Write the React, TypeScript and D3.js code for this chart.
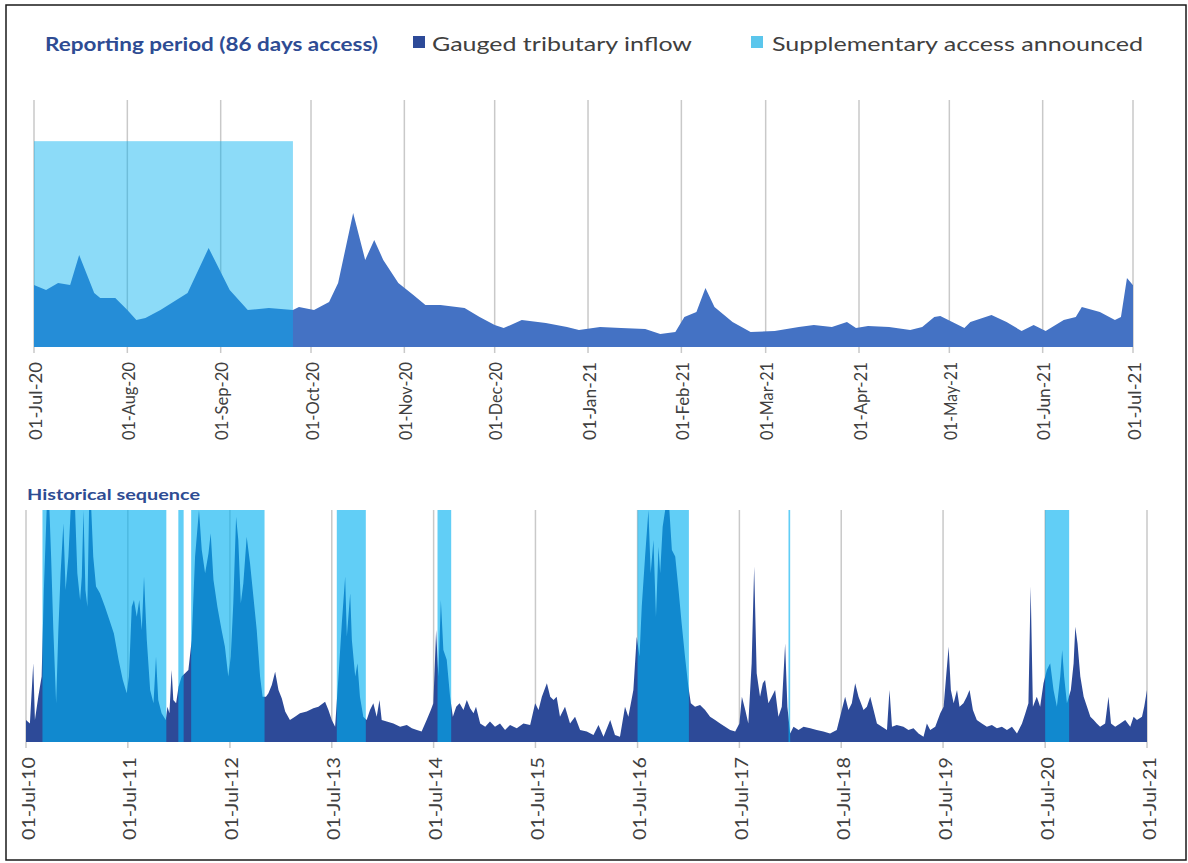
import React from 'react';
import * as d3 from 'd3';

// ---------- Reporting period (2020-21) ----------
const topStartStr = '2020-07-01';
const topTicks = ['2020-07-01','2020-08-01','2020-09-01','2020-10-01','2020-11-01','2020-12-01','2021-01-01','2021-02-01','2021-03-01','2021-04-01','2021-05-01','2021-06-01','2021-07-01'];
// days since 1 Jul 2020
const topDay = [0,4,8,12,15,20,22,27,31,34,37,42,51,58,65,71,78,86,88,93,98,101,106,110,113,116,121,126,130,135,143,148,153,156,162,170,177,181,188,195,203,208,213,216,220,223,226,232,238,246,254,259,265,270,273,277,284,291,295,299,301,305,309,311,318,323,328,332,336,342,346,348,354,359,361,363,365];
const topFlow = [301,277,311,301,447,262,238,238,180,131,141,180,262,481,277,180,189,180,194,180,219,311,651,423,520,423,311,253,204,204,189,146,107,92,131,117,97,83,97,92,87,63,73,146,170,287,194,121,73,78,97,107,97,121,92,102,97,83,97,146,151,121,92,121,155,121,78,107,78,131,146,194,170,131,146,335,300];
const reportStart = '2020-07-01';
const reportEnd = '2020-09-25';
const reportLevel = 1000;

// ---------- Historical sequence (2010-21) ----------
const histStartStr = '2010-07-01';
const histTicks = ['2010-07-01','2011-07-01','2012-07-01','2013-07-01','2014-07-01','2015-07-01','2016-07-01','2017-07-01','2018-07-01','2019-07-01','2020-07-01','2021-07-01'];
// days since 1 Jul 2010
const histDay = [
  0,14,26,32,44,56,64,74,84,90,98,108,116,124,134,142,152,160,176,184,194,200,206,213,220,226,234,241,251,265,283,299,315,332,347,361,369,379,387,397,406,415,423,433,445,457,466,474,486,501,507,514,522,528,538,547,558,570,582,594,606,620,630,642,654,662,672,686,701,713,725,734,743,753,761,770,779,791,803,815,827,839,848,860,869,881,893,905,917,929,946,964,
  982,1006,1030,1048,1072,1084,1096,1108,1120,1132,1144,1150,1162,1168,1180,1188,1197,1209,1221,1233,1245,1257,1267,1275,1293,1317,1341,1365,1383,1401,1418,1436,1451,1460,1470,1478,1487,1496,1508,1520,1530,1542,1554,1568,1580,1592,1604,1613,1628,1646,1663,1681,1699,1717,1735,1759,1783,1807,1825,1837,1849,1867,1879,1891,1902,1914,1932,1950,1968,
  1986,2010,2034,2052,2070,2094,2111,2129,2147,2159,2177,2189,2199,2207,2219,2231,2239,2249,2258,2267,2273,2282,2291,2306,2315,2327,2339,2350,2362,2374,2383,2398,2416,2434,2452,2470,2488,2506,2524,2542,2557,2566,2578,2589,2601,2610,2619,2631,2641,2649,2661,2673,2685,2697,2709,2721,2729,2739,2751,2769,2787,2811,2834,2858,2882,2906,2924,2936,2948,2960,2972,2984,
  3002,3014,3026,3038,3050,3068,3086,3095,3104,3121,3145,3163,3181,3199,3217,3229,3241,3259,3277,3289,3298,3307,3315,3325,3337,3346,3360,3372,3382,3394,3408,3426,3444,3462,3480,3498,3516,3534,3552,3570,3582,3593,3601,3609,3623,3635,3647,3659,3671,3683,3695,3707,3714,3721,3731,3745,3755,3761,3769,3779,3791,3803,3815,3827,3838,3850,3868,3880,3889,3904,3922,3940,3958,3970,3982,4000,4008,4018
];
const histFlow = [
  95,80,339,95,195,282,655,1000,1000,800,483,167,483,727,943,655,800,1000,1000,727,612,713,1000,655,583,1000,1000,800,670,641,583,526,468,353,267,210,282,583,612,540,612,483,713,440,224,167,368,181,124,95,152,124,310,181,167,239,282,296,310,440,800,1000,828,727,813,900,698,583,483,411,282,368,598,971,871,598,684,885,770,627,483,282,195,195,210,246,303,224,188,131,95,109,
  124,131,145,152,174,138,95,66,282,512,713,454,641,440,282,339,195,109,95,138,167,109,181,95,88,80,66,73,59,52,45,95,138,167,483,282,612,397,354,195,109,152,167,138,181,145,124,152,80,66,88,66,80,52,73,59,80,73,167,138,195,253,195,181,195,109,152,80,109,
  52,45,30,73,23,95,30,23,152,109,224,454,368,583,800,1000,727,871,540,842,727,928,1000,1000,828,800,655,512,368,239,167,152,160,138,109,95,80,66,52,45,80,195,138,80,339,756,296,195,253,267,167,195,224,109,152,425,152,37,66,52,66,59,52,45,37,52,138,195,138,167,253,195,
  138,152,195,138,80,66,52,224,66,73,66,52,59,37,23,80,52,66,124,152,282,411,224,167,224,152,167,195,224,138,95,80,66,73,59,66,52,66,37,80,124,167,670,152,195,152,253,310,339,224,152,282,397,282,167,224,339,497,425,282,195,152,109,95,80,66,80,195,80,66,80,95,66,109,95,109,152,224
];
const accessStart = ['2010-08-29','2011-12-29','2012-02-13','2013-07-19','2014-07-15','2016-07-01','2017-12-24','2020-07-01'];
const accessEnd = ['2011-11-16','2012-01-17','2012-11-02','2013-10-31','2014-09-02','2017-01-01','2017-12-30','2020-09-25'];

const W = 1188;
const H = 863;
const parse = d3.utcParse('%Y-%m-%d');
const fmt = d3.utcFormat('%d-%b-%y');

const C_TITLE = '#2E4C93';
const C_TEXT = '#404040';
const C_GRID = '#c9c9c9';
const C_TOP_AREA = '#4472C4';
const C_HIST_AREA = '#2D4A98';
const C_ACCESS = '#00B0F0';

export default function App() {
  const topStart = parse(topStartStr)!;
  const histStart = parse(histStartStr)!;

  const topX = d3.scaleUtc().domain([parse(topTicks[0])!, parse(topTicks[topTicks.length - 1])!]).range([34, 1133]);
  const topY = d3.scaleLinear().domain([0, 1200]).range([347, 100]).clamp(true);
  const histX = d3.scaleUtc().domain([parse(histTicks[0])!, parse(histTicks[histTicks.length - 1])!]).range([26, 1147]);
  const histY = d3.scaleLinear().domain([0, 1000]).range([742, 510]).clamp(true);

  const topData = topDay.map((d, i) => ({ date: d3.utcDay.offset(topStart, d), v: topFlow[i] }));
  const histData = histDay.map((d, i) => ({ date: d3.utcDay.offset(histStart, d), v: histFlow[i] }));

  const topArea = d3.area<{ date: Date; v: number }>()
    .x(d => topX(d.date)).y0(topY(0)).y1(d => topY(d.v))(topData) || '';
  const histArea = d3.area<{ date: Date; v: number }>()
    .x(d => histX(d.date)).y0(histY(0)).y1(d => histY(d.v))(histData) || '';

  const rs = parse(reportStart)!;
  const re = parse(reportEnd)!;

  return (
    <svg width={W} height={H} style={{ position: 'absolute', left: 0, top: 0, display: 'block' }}
      fontFamily="Lato, 'Open Sans', sans-serif">
      <rect x={0} y={0} width={W} height={H} fill="#fff" />
      <rect x={6} y={5} width={1180} height={855} fill="none" stroke="#1a1a1a" strokeWidth={1.5} />

      {/* Legend */}
      <text x={45} y={51} fontSize={18} fontWeight={700} fill={C_TITLE} textLength={333} lengthAdjust="spacingAndGlyphs">Reporting period (86 days access)</text>
      <rect x={413} y={36} width={12} height={12} fill={C_HIST_AREA} />
      <text x={432} y={51} fontSize={20} fill={C_TEXT} textLength={260} lengthAdjust="spacingAndGlyphs">Gauged tributary inflow</text>
      <rect x={751} y={36} width={12} height={12} fill="#5BC6EC" />
      <text x={772} y={51} fontSize={20} fill={C_TEXT} textLength={371} lengthAdjust="spacingAndGlyphs">Supplementary access announced</text>

      {/* Top chart */}
      {topTicks.map(t => {
        const x = topX(parse(t)!);
        return <line key={'tg' + t} x1={x} x2={x} y1={100} y2={353} stroke={C_GRID} strokeWidth={1.5} />;
      })}
      <path d={topArea} fill={C_TOP_AREA} />
      <rect x={topX(rs)} y={topY(reportLevel)} width={topX(re) - topX(rs)} height={topY(0) - topY(reportLevel)} fill={C_ACCESS} fillOpacity={0.45} />
      {topTicks.map(t => {
        const x = topX(parse(t)!);
        return (
          <text key={'tl' + t} transform={`translate(${x + 1},362) rotate(-90)`} textAnchor="end" dominantBaseline="central"
            fontSize={17} fill={C_TEXT} textLength={78} lengthAdjust="spacingAndGlyphs">{fmt(parse(t)!)}</text>
        );
      })}

      {/* Historical chart */}
      <text x={27} y={500} fontSize={16} fontWeight={700} fill={C_TITLE} textLength={173} lengthAdjust="spacingAndGlyphs">Historical sequence</text>
      {histTicks.map(t => {
        const x = histX(parse(t)!);
        return <line key={'hg' + t} x1={x} x2={x} y1={510} y2={748} stroke={C_GRID} strokeWidth={1.5} />;
      })}
      <path d={histArea} fill={C_HIST_AREA} />
      {accessStart.map((s, i) => {
        const x0 = histX(parse(s)!);
        const x1 = histX(parse(accessEnd[i])!);
        return <rect key={'ac' + i} x={x0} y={histY(1000)} width={Math.max(1.5, x1 - x0)} height={histY(0) - histY(1000)} fill={C_ACCESS} fillOpacity={0.62} />;
      })}
      {histTicks.map(t => {
        const x = histX(parse(t)!);
        return (
          <text key={'hl' + t} transform={`translate(${x + 2},757) rotate(-90)`} textAnchor="end" dominantBaseline="central"
            fontSize={17} fill={C_TEXT} textLength={83} lengthAdjust="spacingAndGlyphs">{fmt(parse(t)!)}</text>
        );
      })}
    </svg>
  );
}
